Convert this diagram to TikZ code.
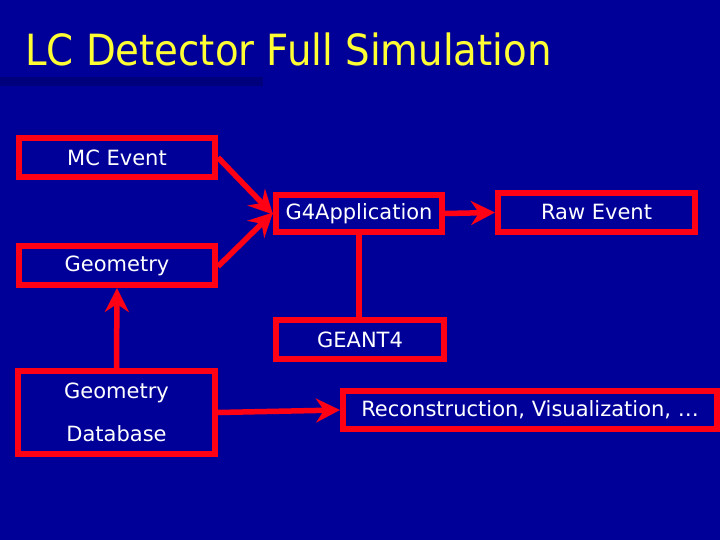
\documentclass[tikz,border=0pt]{standalone}
\usepackage{fontspec}
\setmainfont{DejaVu Sans}
\usetikzlibrary{arrows.meta}
\definecolor{bg}{RGB}{0,0,153}
\definecolor{shadow}{RGB}{0,0,125}
\definecolor{boxred}{RGB}{255,0,20}
\definecolor{titleyellow}{RGB}{255,255,51}
\tikzset{
  box/.style={draw=boxred, line width=6pt, fill=bg, inner sep=0pt, text=white, font=\fontsize{21}{24}\selectfont},
  conn/.style={draw=boxred, line width=5.5pt},
  arr/.style={conn, -{Stealth[length=24pt,width=24pt,inset=8pt]}},
}
\begin{document}
\begin{tikzpicture}[x=1pt,y=-1pt]
\useasboundingbox (0,0) rectangle (720,540);
\fill[bg] (0,0) rectangle (720,540);
\fill[shadow] (0,77) rectangle (263,86);
\node[anchor=base west, text=titleyellow, font=\fontsize{43}{48}\selectfont, inner sep=0pt] (title) at (25,66) {\scalebox{0.9}[1]{LC Detector Full Simulation}};

\node[box, minimum width=196pt, minimum height=39pt] (mc) at (117,157.5) {MC Event};
\node[box, minimum width=196pt, minimum height=39pt] (geo) at (117,265.5) {Geometry};
\node[box, minimum width=166pt, minimum height=37pt] (g4) at (359,213.5) {G4Application};
\node[box, minimum width=197pt, minimum height=39pt] (raw) at (596.5,212.5) {\raisebox{2pt}{Raw Event}};
\node[box, minimum width=168pt, minimum height=39pt] (geant) at (360,339.5) {GEANT4};
\node[box, minimum width=197pt, minimum height=83pt, align=center] (gdb) at (116.5,412.5) {Geometry\\[19pt]Database};
\node[box, minimum width=374pt, minimum height=38pt] (reco) at (530,410) {Reconstruction, Visualization, \dots};

\draw[arr] (mc.east) -- ([yshift=-1pt]g4.west);
\draw[arr] ([yshift=-1pt]geo.east) -- ([yshift=1pt]g4.west);
\draw[arr] (g4.east) -- (raw.west);
\draw[conn] (g4.south) -- (g4.south |- geant.north);
\draw[arr] (gdb.north) -- (geo.south);
\draw[arr] (gdb.east) -- (reco.west);
\end{tikzpicture}
\end{document}
